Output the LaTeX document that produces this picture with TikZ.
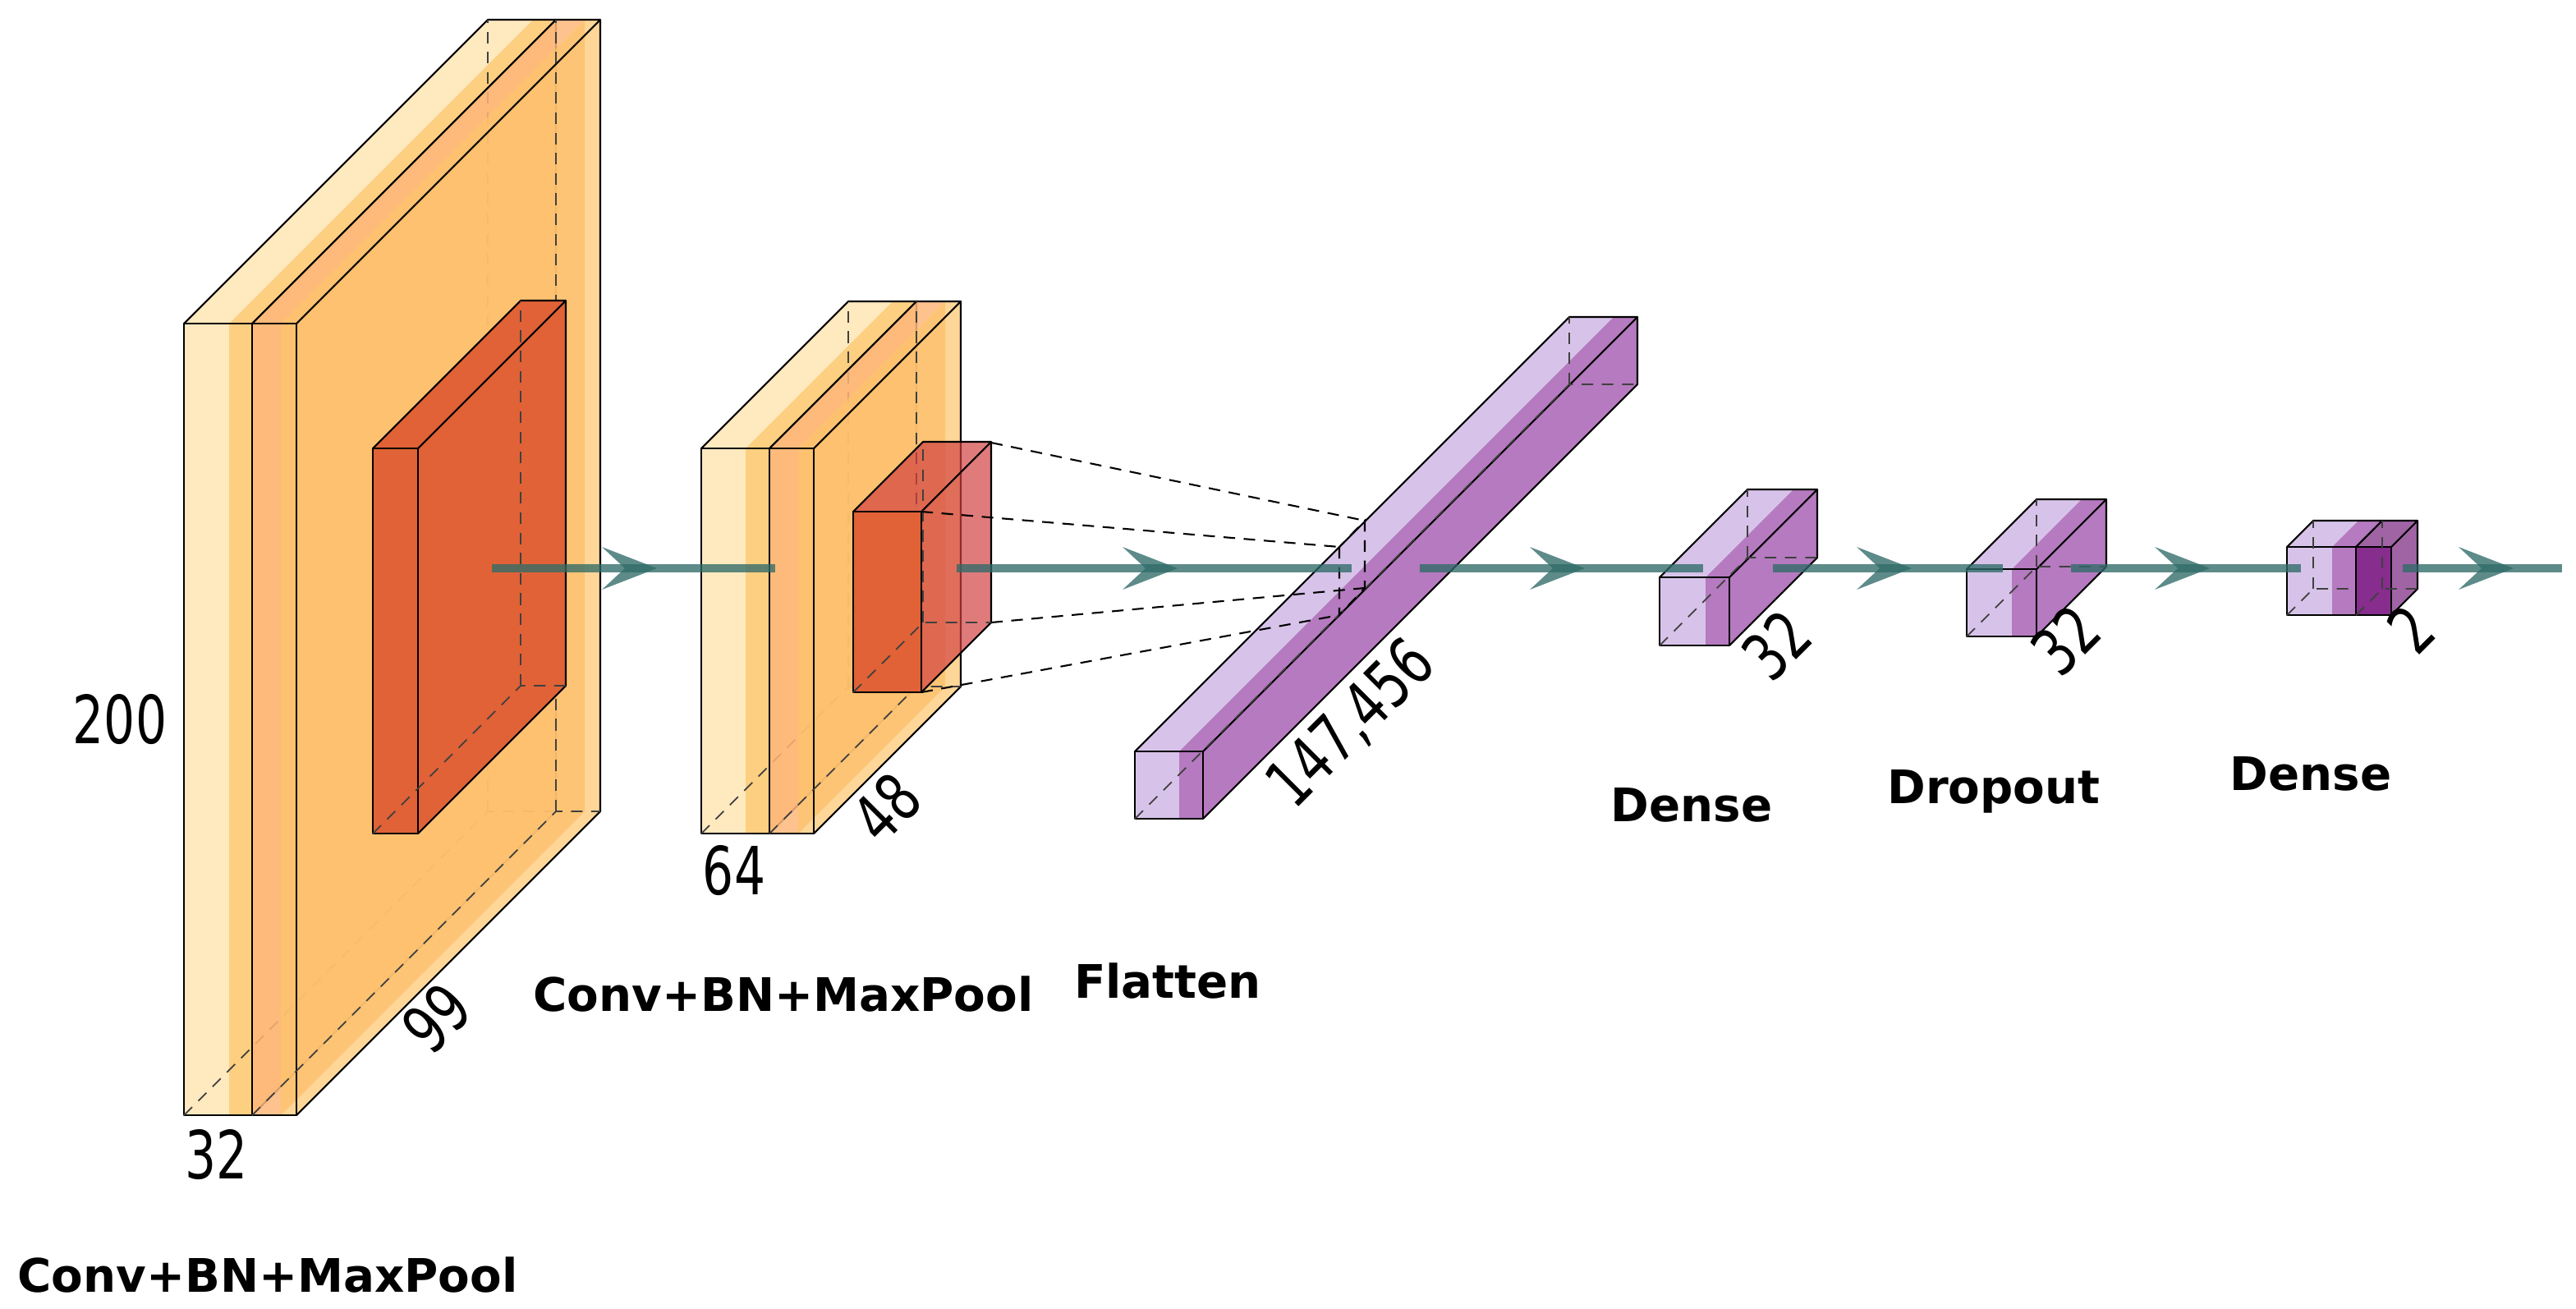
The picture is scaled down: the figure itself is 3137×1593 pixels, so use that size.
\documentclass[tikz,border=0pt]{standalone}
\usepackage{fontspec}
\setmainfont{DejaVu Sans}
\newfontfamily\numfont{DejaVu Sans}[FakeStretch=0.74]
\usetikzlibrary{calc}
\definecolor{cLight}{HTML}{FFE9BF}
\definecolor{cOrL}{HTML}{FDCF80}
\definecolor{cOr}{HTML}{FDC56C}
\definecolor{cSal}{HTML}{FDB77A}
\definecolor{cRed}{HTML}{E06236}
\definecolor{cRedB}{RGB}{210,64,64}
\definecolor{pLight}{HTML}{D7C3E9}
\definecolor{pMid}{HTML}{B57ABF}
\definecolor{pDark}{HTML}{862D8E}
\definecolor{pSide}{HTML}{A064A5}
\definecolor{arr}{HTML}{2F6B68}
\newcommand\cubfaces[7]{%
  \fill[#6,opacity=#7] (#1,#3) rectangle (#2,#4);
  \fill[#6,opacity=#7] (#1,#3) -- ({#1+#5},{#3-#5}) -- ({#2+#5},{#3-#5}) -- (#2,#3) -- cycle;
  \fill[#6,opacity=#7] (#2,#3) -- ({#2+#5},{#3-#5}) -- ({#2+#5},{#4-#5}) -- (#2,#4) -- cycle;}
\newcommand\cubedges[5]{%
  \draw[edge] (#1,#3) rectangle (#2,#4);
  \draw[edge] (#1,#3) -- ({#1+#5},{#3-#5}) -- ({#2+#5},{#3-#5}) -- (#2,#3);
  \draw[edge] ({#2+#5},{#3-#5}) -- ({#2+#5},{#4-#5}) -- (#2,#4);
  \draw[hid] (#1,#4) -- ({#1+#5},{#4-#5}) -- ({#2+#5},{#4-#5});
  \draw[hid] ({#1+#5},{#4-#5}) -- ({#1+#5},{#3-#5});}
\newcommand\ahead[1]{%
  \fill[arr,opacity=0.78] (#1,692) -- ({#1-67},666) -- ({#1-39},692) -- ({#1-67},718) -- cycle;}
\tikzset{
  edge/.style={black,line width=0.6pt,line join=round},
  hid/.style={black!75,line width=0.5pt,dash pattern=on 4pt off 3pt},
  proj/.style={black,line width=0.6pt,dash pattern=on 4pt off 3pt},
  flow/.style={arr,opacity=0.78,line width=2.6pt},
  num/.style={font=\numfont\fontsize{23}{26}\selectfont,inner sep=0pt},
  lab/.style={font=\bfseries\fontsize{16}{19}\selectfont,inner sep=0pt}
}
\begin{document}
\begin{tikzpicture}[x=0.01cm,y=-0.01cm]
\useasboundingbox (0,0) rectangle (3137,1593);
% ---- block 1
\cubfaces{224}{279}{394}{1358}{370}{cLight}{1}
\cubfaces{279}{307}{394}{1358}{370}{cOrL}{1}
\cubedges{224}{307}{394}{1358}{370}
\cubfaces{307}{342}{394}{1358}{370}{cSal}{0.85}
\cubfaces{342}{361}{394}{1358}{370}{cOr}{0.7}
\cubedges{307}{361}{394}{1358}{370}
\cubfaces{454}{509}{546}{1015}{180}{cRed}{1}
\cubedges{454}{509}{546}{1015}{180}
% ---- block 2
\cubfaces{854}{908}{546}{1015}{179}{cLight}{1}
\cubfaces{908}{937}{546}{1015}{179}{cOrL}{1}
\cubedges{854}{937}{546}{1015}{179}
\cubfaces{937}{972}{546}{1015}{179}{cSal}{0.85}
\cubfaces{972}{991}{546}{1015}{179}{cOr}{0.7}
\cubedges{937}{991}{546}{1015}{179}
\cubfaces{1039}{1122}{623}{843}{85}{cRedB}{0.69}
\fill[cRed] (1039,623) rectangle (1122,843);
\cubedges{1039}{1122}{623}{843}{85}
% ---- flatten
\cubfaces{1382}{1436}{915}{997}{529}{pLight}{1}
\cubfaces{1436}{1465}{915}{997}{529}{pMid}{1}
\cubedges{1382}{1465}{915}{997}{529}
\draw[proj] (1207,539) -- (1662,634);
\draw[proj] (1122,623) -- (1631,666);
\draw[proj] (1207,758) -- (1662,716);
\draw[proj] (1122,843) -- (1631,749);
\draw[proj] (1631,666) -- (1631,749) -- (1662,716) -- (1662,634) -- cycle;
% ---- dense 1
\cubfaces{2021}{2077}{703}{786}{107}{pLight}{1}
\cubfaces{2077}{2106}{703}{786}{107}{pMid}{1}
\cubedges{2021}{2106}{703}{786}{107}
% ---- dropout
\cubfaces{2395}{2450}{693}{775}{85}{pLight}{1}
\cubfaces{2450}{2480}{693}{775}{85}{pMid}{1}
\cubedges{2395}{2480}{693}{775}{85}
% ---- dense 2
\cubfaces{2785}{2840}{666}{749}{32}{pLight}{1}
\cubfaces{2840}{2869}{666}{749}{32}{pMid}{1}
\cubedges{2785}{2869}{666}{749}{32}
\cubfaces{2869}{2912}{666}{749}{32}{pSide}{1}
\fill[pDark] (2869,666) rectangle (2912,749);
\cubedges{2869}{2912}{666}{749}{32}
% ---- flow arrows
\coordinate (s1) at (599,692);  \coordinate (e1) at (944,692);
\coordinate (s2) at (1165,692); \coordinate (e2) at (1646,692);
\coordinate (s3) at (1729,692); \coordinate (e3) at (2074,692);
\coordinate (s4) at (2159,692); \coordinate (e4) at (2439,692);
\coordinate (s5) at (2522,692); \coordinate (e5) at (2802,692);
\coordinate (s6) at (2926,692); \coordinate (e6) at (3120,692);
\draw[flow] (s1) -- (e1); \ahead{800}
\draw[flow] (s2) -- (e2); \ahead{1434}
\draw[flow] (s3) -- (e3); \ahead{1930}
\draw[flow] (s4) -- (e4); \ahead{2328}
\draw[flow] (s5) -- (e5); \ahead{2691}
\draw[flow] (s6) -- (e6); \ahead{3061}
% ---- labels
\node[num] (n200) at (146,876) {200};
\node[num] (n32a) at (264,1406) {32};
\node[num,rotate=45] (n99) at (532,1240) {99};
\node[num] (n64) at (894,1060) {64};
\node[num,rotate=45] (n48) at (1080,984) {48};
\node[num,rotate=45] (n147) at (1646,882) {147,456};
\node[num,rotate=45] (n32b) at (2164,786) {32};
\node[num,rotate=45] (n32c) at (2516,780) {32};
\node[num,rotate=45] (n2) at (2936,766) {2};
\node[lab] (l1) at (326,1552) {Conv+BN+MaxPool};
\node[lab] (l2) at (954,1210) {Conv+BN+MaxPool};
\node[lab] (l3) at (1422,1194) {Flatten};
\node[lab] (l4) at (2060,980) {Dense};
\node[lab] (l5) at (2428,964) {Dropout};
\node[lab] (l6) at (2814,942) {Dense};
\end{tikzpicture}
\end{document}
